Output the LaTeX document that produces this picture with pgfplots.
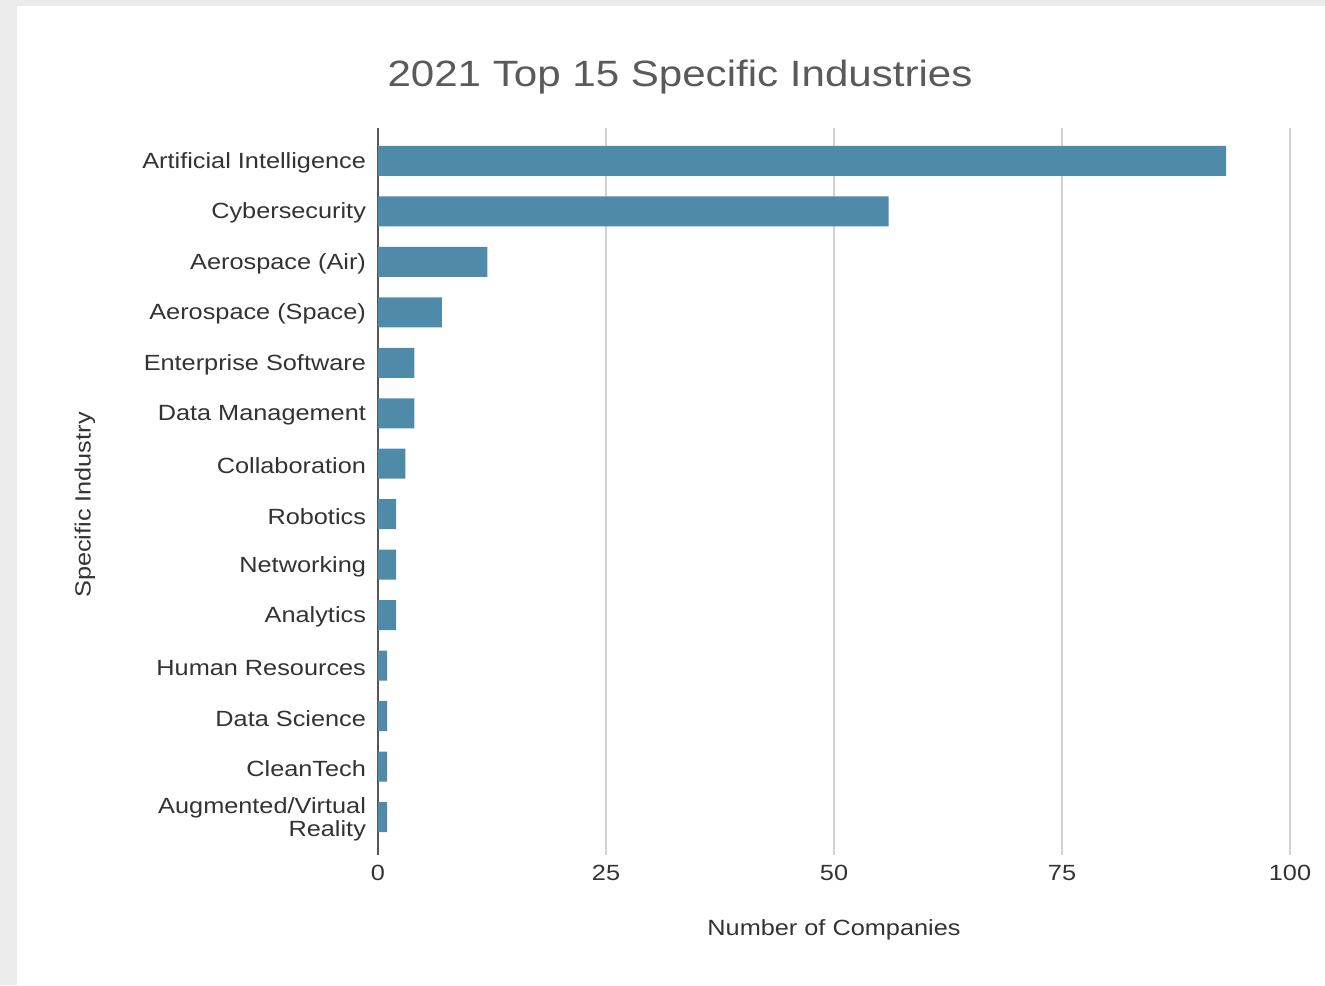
\documentclass[border=0pt]{standalone}
\usepackage{pgfplots}
\pgfplotsset{compat=1.18}
\usepackage{fontspec}
\setmainfont{Liberation Sans}[FakeStretch=1.15]
\definecolor{barc}{RGB}{79,139,168}
\definecolor{bggray}{RGB}{235,235,235}
\definecolor{txt}{RGB}{51,51,51}
\definecolor{ttl}{RGB}{90,90,90}
\definecolor{gridc}{RGB}{210,210,210}
\definecolor{axc}{RGB}{85,85,85}
\begin{document}
\begin{tikzpicture}
\fill[bggray] (0,0) rectangle (662.5pt,492.5pt);
\fill[white] (8.5pt,0) rectangle (662.5pt,489.5pt);
\node[text=ttl,font=\fontsize{18.3}{22}\selectfont] at (340pt,454pt) {2021 Top 15 Specific Industries};
\begin{axis}[
  at={(189pt,65pt)}, anchor=south west,
  scale only axis, width=456pt, height=363.5pt,
  xbar, bar width=15pt,
  xmin=0, xmax=100, ymin=-0.65, ymax=13.75,
  y dir=reverse,
  axis x line*=bottom, axis y line*=left,
  x axis line style={draw=none},
  y axis line style={draw=axc, line width=0.8pt},
  xtick={0,25,50,75,100},
  ytick={0,...,13},
  yticklabels={Artificial Intelligence,Cybersecurity,Aerospace (Air),Aerospace (Space),Enterprise Software,Data Management,Collaboration,Robotics,Networking,Analytics,Human Resources,Data Science,CleanTech,{Augmented/Virtual\\Reality}},
  major tick length=0pt,
  xmajorgrids, grid style={draw=gridc, line width=0.8pt},
  /pgf/number format/assume math mode=true,
  ticklabel style={text=txt, font=\fontsize{11}{11.5}\selectfont},
  xticklabel style={yshift=-1.5pt},
  yticklabel style={align=right, xshift=-2.5pt, yshift=-1pt},
  xlabel={Number of Companies},
  ylabel={Specific Industry},
  label style={text=txt, font=\fontsize{11}{13}\selectfont},
  xlabel style={at={(axis description cs:0.5,-0.1032)}, anchor=center},
  ylabel style={at={(axis description cs:-0.3213,0.4814)}, anchor=center},
]
\addplot[fill=barc, draw=none] coordinates {
(93,0) (56,1) (12,2) (7,3) (4,4) (4,5) (3,6) (2,7) (2,8) (2,9) (1,10) (1,11) (1,12) (1,13)
};
\end{axis}
\end{tikzpicture}
\end{document}
